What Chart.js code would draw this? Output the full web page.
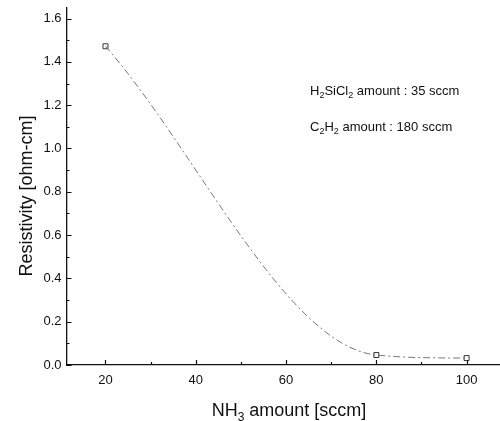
<!DOCTYPE html>
<html><head><meta charset="utf-8">
<script src="https://cdn.jsdelivr.net/npm/chart.js@4/dist/chart.umd.min.js"></script>
<style>html,body{margin:0;padding:0;background:#fff}#wrap{width:500px;height:421px}</style>
</head><body><div id="wrap"><canvas id="c" width="500" height="421"></canvas></div>
<script>
// ---- data ----
const nh3Amount = [20, 80, 100];
const resistivity = [1.472, 0.046, 0.032];
const xTickValues = [20, 40, 60, 80, 100];
const yTickValues = [0.0, 0.2, 0.4, 0.6, 0.8, 1.0, 1.2, 1.4, 1.6];
const xTitleParts = [["NH", false], ["3", true], [" amount [sccm]", false]];
const yTitle = "Resistivity [ohm-cm]";
const noteLine1 = [["H", false], ["2", true], ["SiCl", false], ["2", true], [" amount : 35 sccm", false]];
const noteLine2 = [["C", false], ["2", true], ["H", false], ["2", true], [" amount : 180 sccm", false]];

const FONT = "'Liberation Sans', Arial, sans-serif";

function richWidth(ctx, parts, size, subSize) {
  let w = 0;
  for (const [t, sub] of parts) { ctx.font = (sub ? subSize : size) + "px " + FONT; w += ctx.measureText(t).width; }
  return w;
}
function drawRich(ctx, parts, x, y, size, subSize, subDy) {
  ctx.textAlign = "left"; ctx.textBaseline = "alphabetic";
  for (const [t, sub] of parts) {
    ctx.font = (sub ? subSize : size) + "px " + FONT;
    ctx.fillText(t, x, sub ? y + subDy : y);
    x += ctx.measureText(t).width;
  }
}

const decor = {
  id: "decor",
  afterDraw(chart) {
    const ctx = chart.ctx, xs = chart.scales.x, ys = chart.scales.y, a = chart.chartArea;
    ctx.save();
    ctx.strokeStyle = "#111"; ctx.lineWidth = 1.2;
    const xMinor = [];
    for (let i = 0; i < xTickValues.length - 1; i++) xMinor.push((xTickValues[i] + xTickValues[i + 1]) / 2);
    const yMinor = [];
    for (let i = 0; i < yTickValues.length - 1; i++) yMinor.push((yTickValues[i] + yTickValues[i + 1]) / 2);
    ctx.beginPath();
    xTickValues.forEach(v => { const p = Math.round(xs.getPixelForValue(v)) + 0.5; ctx.moveTo(p, a.bottom); ctx.lineTo(p, a.bottom - 5); });
    xMinor.forEach(v => { const p = Math.round(xs.getPixelForValue(v)) + 0.5; ctx.moveTo(p, a.bottom); ctx.lineTo(p, a.bottom - 3); });
    yTickValues.forEach(v => { const p = Math.round(ys.getPixelForValue(v)) + 0.5; ctx.moveTo(a.left, p); ctx.lineTo(a.left + 5, p); });
    yMinor.forEach(v => { const p = Math.round(ys.getPixelForValue(v)) + 0.5; ctx.moveTo(a.left, p); ctx.lineTo(a.left + 3, p); });
    ctx.stroke();

    ctx.fillStyle = "#111";
    ctx.save();
    ctx.translate(32, 196);
    ctx.rotate(-Math.PI / 2);
    ctx.font = "18px " + FONT; ctx.textAlign = "center"; ctx.textBaseline = "alphabetic";
    ctx.fillText(yTitle, 0, 0);
    ctx.restore();
    const w = richWidth(ctx, xTitleParts, 18, 12);
    drawRich(ctx, xTitleParts, 289 - w / 2, 416, 18, 12, 5);
    drawRich(ctx, noteLine1, 310, 95, 13, 9, 3);
    drawRich(ctx, noteLine2, 310, 131, 13, 9, 3);
    ctx.restore();
  }
};

new Chart(document.getElementById("c"), {
  type: "scatter",
  data: {
    datasets: [
      {
        label: "fit",
        data: nh3Amount.map((x, i) => ({ x, y: resistivity[i] })),
        showLine: true,
        cubicInterpolationMode: "monotone",
        borderColor: "#777",
        borderWidth: 1,
        borderDash: [7, 3, 2, 3],
        pointRadius: 0,
        pointHoverRadius: 0
      },
      {
        label: "Resistivity",
        data: nh3Amount.map((x, i) => ({ x, y: resistivity[i] })),
        showLine: false,
        pointStyle: "rect",
        pointRadius: 3.5,
        borderColor: "#333",
        backgroundColor: "#fff",
        borderWidth: 1
      }
    ]
  },
  options: {
    responsive: false,
    animation: false,
    devicePixelRatio: 1,
    layout: { autoPadding: false, padding: { top: 7.5, right: 0, left: 0, bottom: 0 } },
    plugins: { legend: { display: false }, tooltip: { enabled: false } },
    scales: {
      x: {
        type: "linear",
        min: 11.36, max: 107.4,
        afterBuildTicks: s => { s.ticks = xTickValues.map(v => ({ value: v })); },
        afterFit: s => { s.height = 56; s.paddingLeft = 0; s.paddingRight = 0; },
        grid: { display: false, drawTicks: false },
        border: { display: true, color: "#111", width: 1.3 },
        ticks: { color: "#111", font: { family: FONT, size: 13 }, padding: 8, maxRotation: 0, callback: v => String(v) }
      },
      y: {
        type: "linear",
        min: 0, max: 1.651,
        afterBuildTicks: s => { s.ticks = yTickValues.map(v => ({ value: v })); },
        afterFit: s => { s.width = 66.5; s.paddingTop = 0; s.paddingBottom = 0; },
        grid: { display: false, drawTicks: false },
        border: { display: true, color: "#111", width: 1.3 },
        ticks: { color: "#111", font: { family: FONT, size: 13 }, padding: 5, callback: v => Number(v).toFixed(1) }
      }
    }
  },
  plugins: [decor]
});
</script>
</body></html>
